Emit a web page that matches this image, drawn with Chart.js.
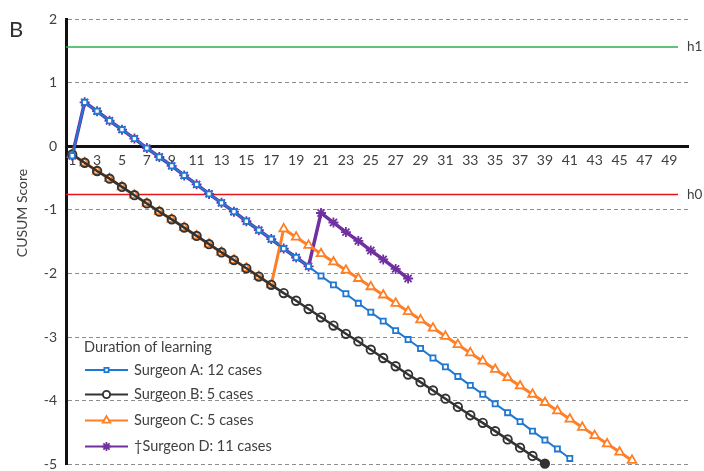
<!DOCTYPE html>
<html>
<head>
<meta charset="utf-8">
<script src="https://cdn.jsdelivr.net/npm/chart.js@4/dist/chart.umd.min.js"></script>
<style>
  html, body { margin: 0; padding: 0; background: #fff; }
  #wrap { width: 704px; height: 471px; position: relative; }
</style>
</head>
<body>
<div id="wrap"><canvas id="c" width="704" height="471"></canvas></div>
<script>
// Case numbers shown on the horizontal axis (every second case)
const caseTicks = [1,3,5,7,9,11,13,15,17,19,21,23,25,27,29,31,33,35,37,39,41,43,45,47,49];

// CUSUM score after each consecutive case
const surgeonA = [-0.15, 0.69, 0.55, 0.40, 0.26, 0.12, -0.03, -0.17, -0.31, -0.46,
  -0.60, -0.75, -0.89, -1.03, -1.18, -1.32, -1.46, -1.61, -1.75, -1.89,
  -2.04, -2.18, -2.32, -2.47, -2.61, -2.75, -2.90, -3.04, -3.18, -3.33,
  -3.47, -3.62, -3.76, -3.90, -4.05, -4.19, -4.33, -4.48, -4.62, -4.76, -4.91];
const surgeonB = [-0.13, -0.26, -0.39, -0.51, -0.64, -0.77, -0.90, -1.03, -1.15, -1.28,
  -1.41, -1.54, -1.67, -1.79, -1.92, -2.05, -2.18, -2.31, -2.43, -2.56,
  -2.69, -2.82, -2.95, -3.07, -3.20, -3.33, -3.46, -3.59, -3.71, -3.84,
  -3.97, -4.10, -4.23, -4.35, -4.48, -4.61, -4.74, -4.87, -4.99];
const surgeonC = [-0.13, -0.26, -0.39, -0.51, -0.64, -0.77, -0.90, -1.03, -1.15, -1.28,
  -1.41, -1.54, -1.67, -1.79, -1.92, -2.05, -2.18, -1.30, -1.43, -1.56,
  -1.69, -1.82, -1.95, -2.08, -2.21, -2.34, -2.47, -2.60, -2.73, -2.86,
  -2.99, -3.12, -3.25, -3.38, -3.51, -3.64, -3.77, -3.90, -4.03, -4.16,
  -4.29, -4.42, -4.55, -4.68, -4.81, -4.94];
const surgeonD = [-0.15, 0.69, 0.55, 0.40, 0.26, 0.12, -0.03, -0.17, -0.31, -0.46,
  -0.60, -0.75, -0.89, -1.03, -1.18, -1.32, -1.46, -1.61, -1.75, -1.89,
  -1.05, -1.20, -1.35, -1.49, -1.64, -1.78, -1.93, -2.08];

// Decision limits
const h1Level = 1.56;
const h0Level = -0.76;
const limitStart = 0.5;
const limitEnd = 49.7;

const seriesNames = ['Surgeon A: 12 cases', 'Surgeon B: 5 cases', 'Surgeon C: 5 cases', '\u2020Surgeon D: 11 cases'];
const legendTitle = 'Duration of learning';

const FONT = 'Lato';
const TEXT = '#404040';

function toPoints(values) {
  return values.map((v, i) => ({ x: i + 1, y: v }));
}

const styles = [
  { color: '#1f78d1', fill: '#ffffff', pointStyle: 'rect', radius: 3.6, lineWidth: 2, pointBorder: 1.8 },
  { color: '#333333', fill: 'rgba(0,0,0,0)', pointStyle: 'circle', radius: 4.2, lineWidth: 2.5, pointBorder: 1.9 },
  { color: '#ff7f27', fill: '#ffffff', pointStyle: 'triangle', radius: 5, lineWidth: 3, pointBorder: 1.8 },
  { color: '#7030a0', fill: '#7030a0', pointStyle: 'star', radius: 5, lineWidth: 3.5, pointBorder: 1.8 }
];

const seriesValues = [surgeonA, surgeonB, surgeonC, surgeonD];

const datasets = seriesValues.map((vals, i) => {
  const s = styles[i];
  return {
    label: seriesNames[i],
    data: toPoints(vals),
    borderColor: s.color,
    backgroundColor: s.fill,
    borderWidth: s.lineWidth,
    pointStyle: s.pointStyle,
    pointRadius: s.radius,
    pointBorderWidth: s.pointBorder,
    pointBorderColor: s.color,
    pointBackgroundColor: i === 1
      ? vals.map((v, k) => (k === vals.length - 1 ? s.color : s.fill))
      : s.fill,
    tension: 0,
    clip: 10
  };
});

datasets.push({
  label: 'h1',
  data: [{ x: limitStart, y: h1Level }, { x: limitEnd, y: h1Level }],
  borderColor: '#2bb24c', borderWidth: 1.6, pointRadius: 0, clip: 10
});
datasets.push({
  label: 'h0',
  data: [{ x: limitStart, y: h0Level }, { x: limitEnd, y: h0Level }],
  borderColor: '#e8141b', borderWidth: 1.6, pointRadius: 0, clip: 10
});

// Panel letter, axis title, limit labels and the in-plot legend
const annotations = {
  id: 'annotations',
  afterDraw(chart) {
    const ctx = chart.ctx;
    const x = chart.scales.x, y = chart.scales.y;
    ctx.save();
    ctx.fillStyle = '#303030';
    ctx.textBaseline = 'middle';
    ctx.textAlign = 'left';
    ctx.font = '22px ' + FONT;
    ctx.fillText('B', 9, 30);

    ctx.font = '13.5px ' + FONT;
    ctx.fillStyle = TEXT;
    ctx.fillText('h1', x.getPixelForValue(limitEnd) + 9, y.getPixelForValue(h1Level));
    ctx.fillText('h0', x.getPixelForValue(limitEnd) + 9, y.getPixelForValue(h0Level));

    ctx.save();
    ctx.translate(22, 213);
    ctx.rotate(-Math.PI / 2);
    ctx.textAlign = 'center';
    ctx.font = '14px ' + FONT;
    ctx.fillText('CUSUM Score', 0, 0);
    ctx.restore();

    // legend
    const lx0 = 85, lx1 = 128, tx = 134;
    const rows = [370, 394.5, 420.5, 446.5];
    ctx.font = '14.5px ' + FONT;
    ctx.fillStyle = TEXT;
    ctx.fillText(legendTitle, 84, 347);
    rows.forEach((ry, i) => {
      const s = styles[i];
      ctx.strokeStyle = s.color;
      ctx.lineWidth = 1.8;
      ctx.beginPath();
      ctx.moveTo(lx0, ry);
      ctx.lineTo(lx1, ry);
      ctx.stroke();
      ctx.fillStyle = i === 1 ? '#ffffff' : s.fill;
      ctx.strokeStyle = s.color;
      ctx.lineWidth = s.pointBorder;
      Chart.helpers.drawPoint(ctx, { pointStyle: s.pointStyle, radius: s.radius - 0.6, rotation: 0, borderWidth: s.pointBorder }, (lx0 + lx1) / 2, ry);
      ctx.fillStyle = TEXT;
      ctx.fillText(seriesNames[i], tx, ry);
    });
    ctx.restore();
  }
};

new Chart(document.getElementById('c'), {
  type: 'line',
  data: { datasets },
  plugins: [annotations],
  options: {
    responsive: false,
    animation: false,
    devicePixelRatio: 1,
    layout: { padding: { left: 0, top: 19, right: 16, bottom: 6 } },
    plugins: { legend: { display: false }, tooltip: { enabled: false } },
    scales: {
      x: {
        type: 'linear',
        min: 0.5,
        max: 50.5,
        position: { y: 0 },
        afterBuildTicks: (s) => { s.ticks = caseTicks.map(v => ({ value: v })); },
        afterFit: (s) => { s.paddingLeft = 0; s.paddingRight = 0; },
        ticks: {
          autoSkip: false, maxRotation: 0, minRotation: 0, padding: 6,
          color: TEXT, font: { family: FONT, size: 14 },
          callback: (v) => String(v)
        },
        grid: { display: false, drawTicks: false },
        border: { display: true, color: '#111111', width: 3 }
      },
      y: {
        min: -5,
        max: 2,
        afterFit: (s) => { s.width = 66; s.paddingTop = 0; s.paddingBottom = 0; },
        ticks: { stepSize: 1, padding: 9, color: TEXT, font: { family: FONT, size: 14 } },
        grid: {
          drawTicks: false,
          lineWidth: 1,
          color: (c) => (c.tick && c.tick.value === 0 ? 'rgba(0,0,0,0)' : '#8c8c8c')
        },
        border: { display: true, color: '#111111', width: 3, dash: [4, 3] }
      }
    }
  }
});
</script>
</body>
</html>
